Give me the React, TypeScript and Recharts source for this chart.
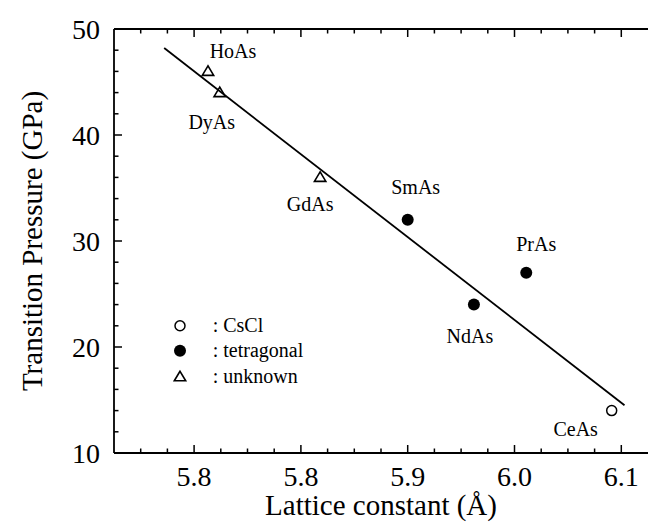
import React from "react";
import { Legend, Scatter, ScatterChart, XAxis, YAxis } from "recharts";

const COMPOUNDS = ["HoAs", "DyAs", "GdAs", "SmAs", "NdAs", "PrAs", "CeAs"];
const LATTICE = [5.713, 5.724, 5.818, 5.9, 5.962, 6.011, 6.091];
const PRESSURE = [46, 44, 36, 32, 24, 27, 14];
const PHASES = ["unknown", "unknown", "unknown", "tetragonal", "tetragonal", "tetragonal", "CsCl"];

const FIT_X = [5.672, 6.103];
const FIT_Y = [48.2, 14.5];

const X_MAJOR = [5.7, 5.8, 5.9, 6.0, 6.1];
const X_LABELS = ["5.8", "5.8", "5.9", "6.0", "6.1"];
const X_MINOR = [
  5.65, 5.675, 5.725, 5.75, 5.775, 5.825, 5.85, 5.875,
  5.925, 5.95, 5.975, 6.025, 6.05, 6.075
];
const Y_MAJOR = [10, 20, 30, 40, 50];
const Y_MINOR = [12, 14, 16, 18, 22, 24, 26, 28, 32, 34, 36, 38, 42, 44, 46, 48];

const LEGEND_KEYS = ["CsCl", "tetragonal", "unknown"];

// label placement relative to each point (px)
const LABEL_OFFSETS: Record<string, [number, number]> = {
  HoAs: [25, -20],
  DyAs: [-8, 29],
  GdAs: [-10, 27],
  SmAs: [8, -33],
  NdAs: [-4, 31],
  PrAs: [10, -29],
  CeAs: [-36, 18]
};

const FONT = "'Liberation Serif', 'DejaVu Serif', serif";
const INK = "#000";

const points = COMPOUNDS.map((name, i) => ({
  name,
  x: LATTICE[i],
  y: PRESSURE[i],
  phase: PHASES[i]
}));
const fit = FIT_X.map((x, i) => ({ x, y: FIT_Y[i] }));

const near = (list: number[], v: number) => list.findIndex((m) => Math.abs(m - v) < 1e-6);

function Marker({ phase, cx, cy }: { phase: string; cx: number; cy: number }) {
  if (phase === "CsCl") {
    return <circle cx={cx} cy={cy} r={5} fill="#fff" stroke={INK} strokeWidth={1.5} />;
  }
  if (phase === "tetragonal") {
    return <circle cx={cx} cy={cy} r={6} fill={INK} />;
  }
  return (
    <polygon
      points={`${cx},${cy - 5.5} ${cx - 5.7},${cy + 4} ${cx + 5.7},${cy + 4}`}
      fill="none"
      stroke={INK}
      strokeWidth={1.6}
    />
  );
}

function PointShape(props: any) {
  const { cx, cy, payload } = props;
  const [dx, dy] = LABEL_OFFSETS[payload.name] || [0, 0];
  return (
    <g>
      <Marker phase={payload.phase} cx={cx} cy={cy} />
      <text
        x={cx + dx}
        y={cy + dy + 7}
        textAnchor="middle"
        fontSize={20}
        fontFamily={FONT}
        fill={INK}
      >
        {payload.name}
      </text>
    </g>
  );
}

function BottomTick({ x, y, payload }: any) {
  const idx = near(X_MAJOR, payload.value);
  return (
    <g>
      <line x1={x} y1={y} x2={x} y2={y - (idx >= 0 ? 8 : 4.5)} stroke={INK} strokeWidth={1.5} />
      {idx >= 0 && (
        <text x={x} y={y + 33} textAnchor="middle" fontSize={28} fontFamily={FONT} fill={INK}>
          {X_LABELS[idx]}
        </text>
      )}
    </g>
  );
}

function TopTick({ x, y, payload }: any) {
  const major = near(X_MAJOR, payload.value) >= 0;
  return <line x1={x} y1={y} x2={x} y2={y + (major ? 8 : 4.5)} stroke={INK} strokeWidth={1.5} />;
}

function LeftTick({ x, y, payload }: any) {
  const major = near(Y_MAJOR, payload.value) >= 0;
  return (
    <g>
      <line x1={x} y1={y} x2={x + (major ? 8 : 4.5)} y2={y} stroke={INK} strokeWidth={1.5} />
      {major && (
        <text x={x - 14} y={y + 9.5} textAnchor="end" fontSize={28} fontFamily={FONT} fill={INK}>
          {payload.value}
        </text>
      )}
    </g>
  );
}

function RightTick({ x, y, payload }: any) {
  const major = near(Y_MAJOR, payload.value) >= 0;
  return <line x1={x} y1={y} x2={x - (major ? 8 : 4.5)} y2={y} stroke={INK} strokeWidth={1.5} />;
}

function LegendBox() {
  return (
    <div style={{ fontFamily: FONT, fontSize: 20, color: INK }}>
      {LEGEND_KEYS.map((key) => (
        <div key={key} style={{ display: "flex", alignItems: "center", height: 25.5 }}>
          <svg width={20} height={25.5} style={{ display: "block" }}>
            <Marker phase={key} cx={10} cy={12.75} />
          </svg>
          <span style={{ marginLeft: 22.7, lineHeight: "25.5px", whiteSpace: "pre" }}>{`: ${key}`}</span>
        </div>
      ))}
    </div>
  );
}

const xTicks = [...X_MAJOR, ...X_MINOR].sort((a, b) => a - b);
const yTicks = [...Y_MAJOR, ...Y_MINOR].sort((a, b) => a - b);
const axisLine = { stroke: INK, strokeWidth: 1.8 };

export default function App() {
  return (
    <div style={{ width: 648, height: 526, background: "#fff" }}>
      <style>{"body{margin:0}"}</style>
      <ScatterChart width={648} height={526} margin={{ top: 0, right: 0, bottom: 0, left: 0 }}>
        <XAxis
          type="number"
          dataKey="x"
          domain={[5.625, 6.125]}
          allowDataOverflow
          ticks={xTicks}
          interval={0}
          height={73}
          tickSize={0}
          tickMargin={0}
          tickLine={false}
          axisLine={axisLine}
          tick={<BottomTick />}
          label={{
            content: ({ viewBox }: any) => (
              <text
                x={viewBox.x + viewBox.width / 2}
                y={viewBox.y + 62}
                textAnchor="middle"
                fontSize={29}
                fontFamily={FONT}
                fill={INK}
              >
                Lattice constant (Å)
              </text>
            )
          }}
        />
        <XAxis
          xAxisId="top"
          orientation="top"
          type="number"
          dataKey="x"
          domain={[5.625, 6.125]}
          allowDataOverflow
          ticks={xTicks}
          interval={0}
          height={29}
          tickSize={0}
          tickMargin={0}
          tickLine={false}
          axisLine={axisLine}
          tick={<TopTick />}
        />
        <YAxis
          type="number"
          dataKey="y"
          domain={[10, 50]}
          allowDataOverflow
          ticks={yTicks}
          interval={0}
          width={114}
          tickSize={0}
          tickMargin={0}
          tickLine={false}
          axisLine={axisLine}
          tick={<LeftTick />}
          label={{
            content: ({ viewBox }: any) => {
              const cx = 42;
              const cy = viewBox.y + viewBox.height / 2;
              return (
                <text
                  x={cx}
                  y={cy}
                  transform={`rotate(-90 ${cx} ${cy})`}
                  textAnchor="middle"
                  fontSize={29}
                  fontFamily={FONT}
                  fill={INK}
                >
                  Transition Pressure (GPa)
                </text>
              );
            }
          }}
        />
        <YAxis
          yAxisId="right"
          orientation="right"
          type="number"
          dataKey="y"
          domain={[10, 50]}
          allowDataOverflow
          ticks={yTicks}
          interval={0}
          width={0}
          tickSize={0}
          tickMargin={0}
          tickLine={false}
          axisLine={false}
          tick={<RightTick />}
        />
        <Scatter
          data={fit}
          line={{ stroke: INK, strokeWidth: 1.8 }}
          shape={() => <g />}
          isAnimationActive={false}
          legendType="none"
        />
        <Scatter data={points} shape={<PointShape />} isAnimationActive={false} />
        <Legend
          layout="vertical"
          align="center"
          verticalAlign="middle"
          content={() => <LegendBox />}
          wrapperStyle={{ left: 170, top: 312.5, width: 220, height: 77 }}
        />
      </ScatterChart>
    </div>
  );
}
